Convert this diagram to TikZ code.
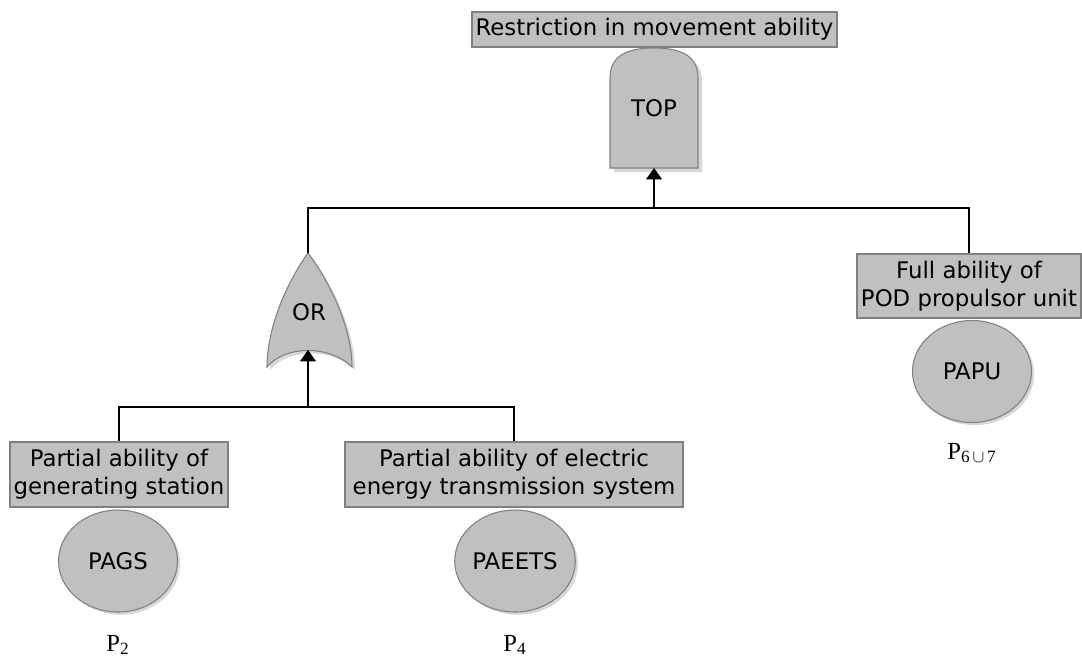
\documentclass[tikz,border=0pt]{standalone}
\usepackage{fontspec}
\setmainfont{DejaVu Sans}
\newfontfamily\probfont{Liberation Serif}
\usetikzlibrary{arrows.meta,shadows,shapes.geometric}
\definecolor{ftfill}{RGB}{192,192,192}
\definecolor{ftline}{RGB}{128,128,128}
\definecolor{ftshade}{RGB}{215,215,215}
\tikzset{
  event/.style={draw=ftline,fill=ftfill,line width=0.6pt,inner sep=0pt,align=center,
    font=\fontsize{13}{16}\selectfont},
  basic/.style={ellipse,draw=ftline,fill=ftfill,line width=0.6pt,inner sep=0pt,
    minimum width=119\unitpx,minimum height=102\unitpx,
    drop shadow={shadow xshift=1.5pt,shadow yshift=-1.5pt,fill=ftshade,opacity=1},
    font=\fontsize{13}{15}\selectfont},
  gate/.style={draw=ftline,fill=ftfill,line width=0.6pt},
  gateshade/.style={fill=ftshade},
  wire/.style={line width=1pt},
  prob/.style={font=\fontsize{14}{16}\probfont}
}
\newlength{\unitpx}
\setlength{\unitpx}{0.02cm}
\begin{document}
\begin{tikzpicture}[x=0.02cm,y=-0.02cm]
  \useasboundingbox (0,0) rectangle (1082,657);
  % top event
  \node[event,minimum width=365\unitpx,minimum height=35\unitpx] (topev) at (654.5,29.5) {Restriction in movement ability};
  \fill[gateshade] (614,172) -- (614,82) .. controls (614,58) and (634,52) .. (658,52)
    .. controls (682,52) and (702,58) .. (702,82) -- (702,172) -- cycle;
  \draw[gate] (610,168) -- (610,78) .. controls (610,54) and (630,48) .. (654,48)
    .. controls (678,48) and (698,54) .. (698,78) -- (698,168) -- cycle;
  \node[font=\fontsize{13}{15}\selectfont] (toplabel) at (654,108) {TOP};
  \coordinate (topin) at (654,168);
  \coordinate (bus1) at (654,208);
  % or gate
  \fill[gateshade] (311,256) .. controls (288,288) and (270,333) .. (270,370)
    .. controls (288,348) and (333,348) .. (355,370)
    .. controls (355,333) and (335,288) .. (311,256) -- cycle;
  \draw[gate] (308,253) .. controls (285,285) and (267,330) .. (267,367)
    .. controls (285,345) and (330,345) .. (352,367)
    .. controls (352,330) and (332,285) .. (308,253) -- cycle;
  \node[font=\fontsize{13}{15}\selectfont] (orlabel) at (309,312) {OR};
  \coordinate (ortip) at (308,253);
  \coordinate (orin) at (308,350);
  \coordinate (bus2) at (308,407);
  % intermediate events
  \node[event,minimum width=224\unitpx,minimum height=64\unitpx] (fapu) at (969,286) {Full ability of\\POD propulsor unit};
  \node[event,minimum width=218\unitpx,minimum height=65\unitpx] (pagsev) at (119,474.5) {Partial ability of\\generating station};
  \node[event,minimum width=338\unitpx,minimum height=65\unitpx] (paeetsev) at (514,474.5) {Partial ability of electric\\energy transmission system};
  % basic events
  \node[basic] (papu) at (972,371.5) {PAPU};
  \node[basic] (pags) at (118,561) {PAGS};
  \node[basic] (paeets) at (515,561) {PAEETS};
  \node[prob] (p67) at (972,453) {P\textsubscript{6\,$\cup$\,7}};
  \node[prob] (p2) at (118,645) {P\textsubscript{2}};
  \node[prob] (p4) at (515,645) {P\textsubscript{4}};
  % connections
  \draw[wire,-{Triangle[width=9pt,length=6.5pt]}] (bus1) -- (topin);
  \draw[wire] (ortip) |- (bus1) -| (fapu.north);
  \draw[wire,-{Triangle[width=9pt,length=6.5pt]}] (bus2) -- (orin);
  \draw[wire] (pagsev.north) |- (bus2) -| (paeetsev.north);
\end{tikzpicture}
\end{document}
